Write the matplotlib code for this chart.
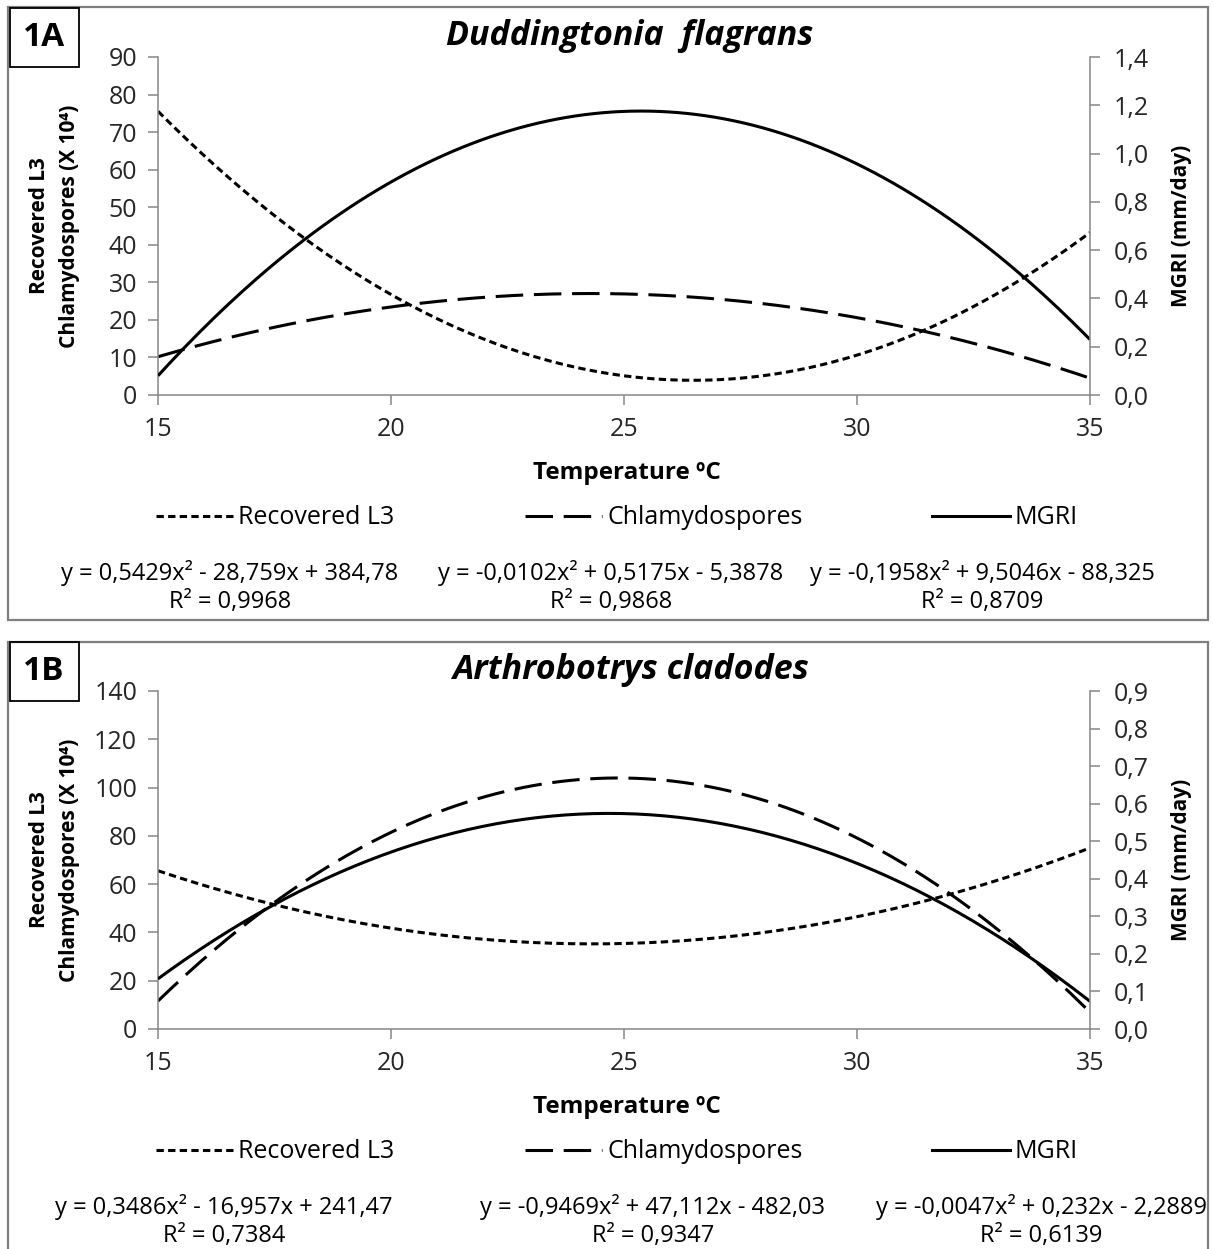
import numpy as np
import matplotlib.pyplot as plt
from matplotlib.lines import Line2D
from matplotlib.patches import Rectangle
from matplotlib.ticker import FuncFormatter

plt.rcParams['font.family'] = ['Open Sans', 'DejaVu Sans']

W, H = 1213, 1249

series_names = ["Recovered L3", "Chlamydospores", "MGRI"]
temp_ticks = [15, 20, 25, 30, 35]

# quadratic trendlines (a, b, c) exactly as printed under each panel
coef_a = [["0,5429", "-28,759", "384,78"],
          ["-0,0102", "0,5175", "-5,3878"],
          ["-0,1958", "9,5046", "-88,325"]]
r2_a = ["0,9968", "0,9868", "0,8709"]
fit_of_a = [0, 2, 1]  # printed fit used by L3, chlamydospores, MGRI

coef_b = [["0,3486", "-16,957", "241,47"],
          ["-0,9469", "47,112", "-482,03"],
          ["-0,0047", "0,232", "-2,2889"]]
r2_b = ["0,7384", "0,9347", "0,6139"]
fit_of_b = [0, 1, 2]

left_ticks_a = [0, 10, 20, 30, 40, 50, 60, 70, 80, 90]
right_ticks_a = [0.0, 0.2, 0.4, 0.6, 0.8, 1.0, 1.2, 1.4]
left_ticks_b = [0, 20, 40, 60, 80, 100, 120, 140]
right_ticks_b = [0.0, 0.1, 0.2, 0.3, 0.4, 0.5, 0.6, 0.7, 0.8, 0.9]

styles = [(0, (2.4, 1.4)), (0, (9, 3.5)), '-']
on_right = [False, False, True]
GRAY = '#868686'
TXT = '#262626'
LW = 2.2
FS = 18


def fx(x):
    return x / W


def fy(y):
    return 1 - y / H


def num(s):
    return float(s.replace(',', '.'))


def eq_text(c):
    def term(s):
        return ("- " + s[1:]) if s.startswith('-') else ("+ " + s)
    return "y = {}x² {}x {}".format(c[0], term(c[1]), term(c[2]))


def comma(v, pos):
    return "{:.1f}".format(v).replace('.', ',')


def panel(fig, top, tag, title, coefs, r2s, fit_of, lticks, rticks, eq_x):
    bottom = top + 338
    ax = fig.add_axes([fx(158), fy(bottom), (1090 - 158) / W, (bottom - top) / H])
    ax2 = ax.twinx()

    xs = np.linspace(15, 35, 200)
    handles = []
    for i, name in enumerate(series_names):
        c = [num(v) for v in coefs[fit_of[i]]]
        target = ax2 if on_right[i] else ax
        target.plot(xs, np.polyval(c, xs), color='black', lw=LW,
                    linestyle=styles[i], solid_capstyle='butt')
        handles.append(Line2D([], [], color='black', lw=LW, linestyle=styles[i]))

    ax.set_xlim(15, 35)
    ax.set_xticks(temp_ticks)
    ax.set_ylim(lticks[0], lticks[-1])
    ax.set_yticks(lticks)
    ax2.set_ylim(rticks[0], rticks[-1])
    ax2.set_yticks(rticks)
    ax2.yaxis.set_major_formatter(FuncFormatter(comma))

    for s in ['top', 'right']:
        ax.spines[s].set_visible(False)
    for s in ['top', 'left', 'bottom']:
        ax2.spines[s].set_visible(False)
    for sp in [ax.spines['left'], ax.spines['bottom'], ax2.spines['right']]:
        sp.set_color(GRAY)
        sp.set_linewidth(1.1)

    ax.tick_params(axis='both', direction='out', length=7, width=1.1, color=GRAY,
                   labelsize=FS, labelcolor=TXT, pad=8)
    ax.tick_params(axis='x', pad=9)
    ax2.tick_params(axis='y', direction='out', length=7, width=1.1, color=GRAY,
                    labelsize=FS, labelcolor=TXT, pad=10)

    ax.set_ylabel("Recovered L3\nChlamydospores (X 10⁴)", fontsize=15,
                  fontweight='bold', linespacing=1.55)
    ax.yaxis.set_label_coords((80 - 158) / 932, 0.5)
    ax2.set_ylabel("MGRI (mm/day)", fontsize=15, fontweight='bold')
    ax2.yaxis.set_label_coords((1171 - 158) / 932, 0.5)

    fig.text(fx(627), fy(bottom + 78), "Temperature ºC", ha='center', va='center',
             fontsize=17.5, fontweight='bold')
    fig.text(fx(630), fy(top - 21), title, ha='center', va='center',
             fontsize=24.5, fontweight='bold', style='italic')

    fig.legend(handles, series_names, loc='center', bbox_to_anchor=(fx(617), fy(bottom + 123)),
               ncol=3, frameon=False, fontsize=18, handlelength=3.1,
               handletextpad=0.2, columnspacing=5.2)

    for k in range(3):
        fig.text(fx(eq_x[k]), fy(bottom + 192), eq_text(coefs[k]) + "\nR² = " + r2s[k],
                 ha='center', va='center', fontsize=17, linespacing=1.2)

    # panel tag box
    fig.text(fx(44), fy(top - 20), tag, ha='center', va='center',
             fontsize=24, fontweight='bold')
    fig.add_artist(Rectangle((fx(10), fy(top + 10)), fx(79) - fx(10), fy(top - 49) - fy(top + 10),
                             transform=fig.transFigure, fill=False, edgecolor='black', lw=1.3))


fig = plt.figure(figsize=(W / 100, H / 100), dpi=100)

fig.add_artist(Rectangle((fx(8), fy(620)), fx(1208) - fx(8), fy(7) - fy(620),
                         transform=fig.transFigure, fill=False, edgecolor='#7f7f7f', lw=1.6))
fig.add_artist(Rectangle((fx(8), fy(1260)), fx(1208) - fx(8), fy(642) - fy(1260),
                         transform=fig.transFigure, fill=False, edgecolor='#7f7f7f', lw=1.6))

panel(fig, 57, "1A", "Duddingtonia  flagrans", coef_a, r2_a, fit_of_a,
      left_ticks_a, right_ticks_a, [230, 611, 982])
panel(fig, 691, "1B", "Arthrobotrys cladodes", coef_b, r2_b, fit_of_b,
      left_ticks_b, right_ticks_b, [224, 653, 1041])

fig.savefig("out.png", dpi=100)
